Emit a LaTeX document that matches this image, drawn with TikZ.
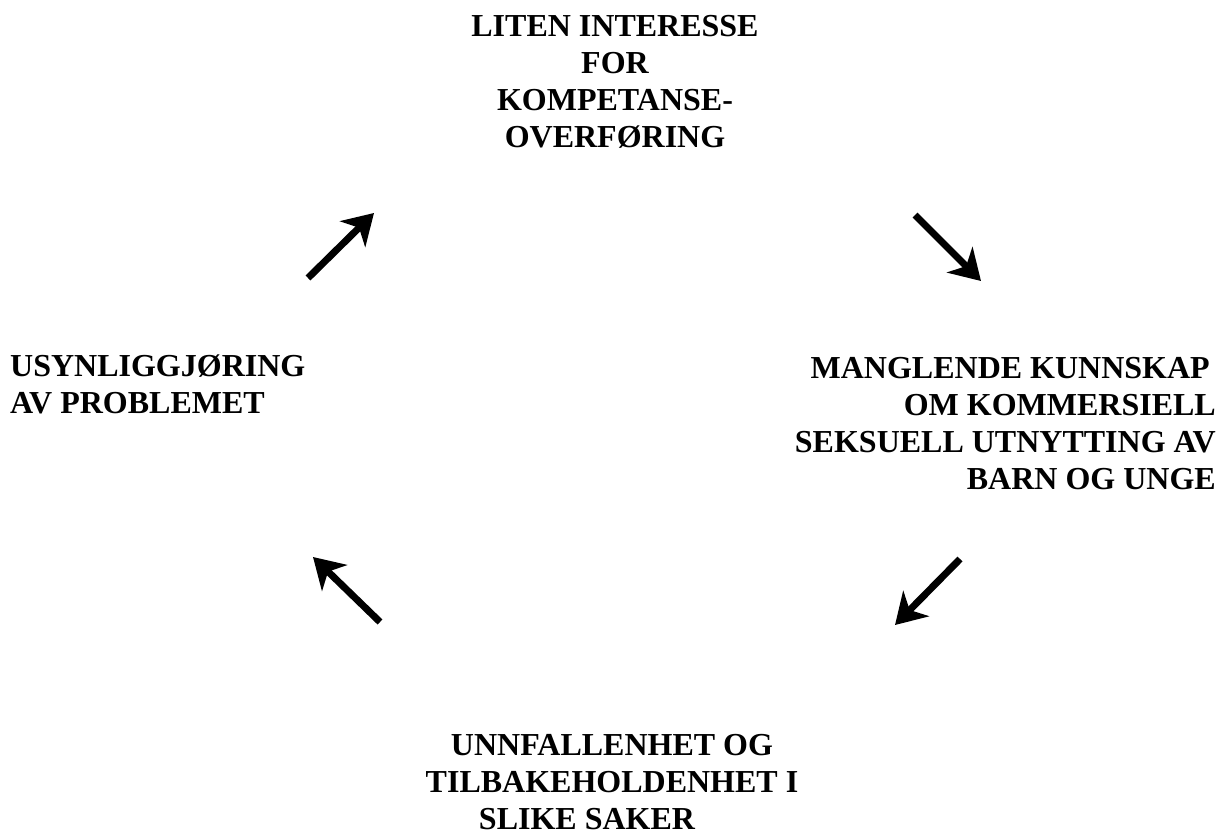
\documentclass[tikz,border=0pt]{standalone}
\usepackage{fontspec}
\setmainfont{Liberation Serif}
\usetikzlibrary{arrows.meta}
\tikzset{
  lbl/.style={inner sep=0pt, font=\bfseries\fontsize{32}{36.8}\selectfont},
  cyc/.style={line width=7pt, -{Stealth[length=30pt,width=36pt,inset=9pt]}}
}
\begin{document}
\begin{tikzpicture}[x=1pt,y=-1pt]
\useasboundingbox[fill=white] (0,0) rectangle (1229,835);
\node[lbl, align=center, anchor=base] (top) at (615,147)
  {LITEN INTERESSE\\FOR\\KOMPETANSE-\\OVERFØRING};
\node[lbl, align=right, anchor=base east] (right) at (1216,489)
  {MANGLENDE KUNNSKAP\hspace*{6pt}\\OM KOMMERSIELL\hspace*{8pt}\\SEKSUELL UTNYTTING AV\\BARN OG UNGE};
\node[lbl, align=center, anchor=base] (bottom) at (612,829)
  {UNNFALLENHET OG\\TILBAKEHOLDENHET I\\SLIKE SAKER\hspace*{50pt}};
\node[lbl, align=left, anchor=base west] (left) at (10,413)
  {USYNLIGGJØRING\\AV PROBLEMET};
\coordinate (a1s) at (308,278);
\coordinate (a1e) at (374,213);
\coordinate (a2s) at (915,215);
\coordinate (a2e) at (981,281);
\coordinate (a3s) at (960,559);
\coordinate (a3e) at (895,625);
\coordinate (a4s) at (380,622);
\coordinate (a4e) at (313,557);
\draw[cyc] (a1s) -- (a1e);
\draw[cyc] (a2s) -- (a2e);
\draw[cyc] (a3s) -- (a3e);
\draw[cyc] (a4s) -- (a4e);
\end{tikzpicture}
\end{document}
